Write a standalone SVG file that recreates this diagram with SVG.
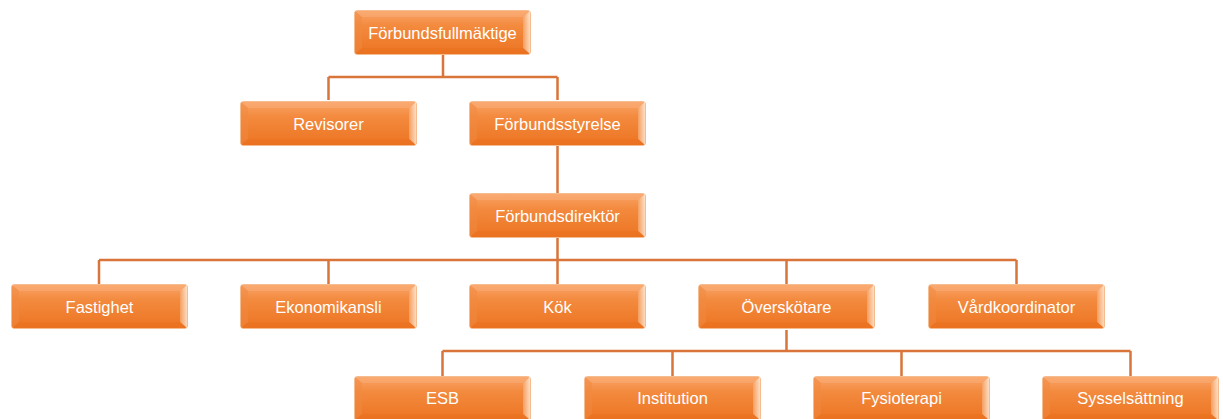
<svg xmlns="http://www.w3.org/2000/svg" width="1223" height="419" viewBox="0 0 1223 419">
<defs>
<linearGradient id="g" x1="0" y1="0" x2="0" y2="1">
<stop offset="0" stop-color="#F9A468"/>
<stop offset="0.35" stop-color="#F38A3E"/>
<stop offset="1" stop-color="#EC7422"/>
</linearGradient>
<linearGradient id="gr" x1="0" y1="0" x2="1" y2="0">
<stop offset="0" stop-color="#F5A56A"/>
<stop offset="1" stop-color="#FFF1E2"/>
</linearGradient>
<symbol id="box" viewBox="0 0 177 45" width="177" height="45">
<rect x="0.5" y="0.5" width="176" height="44" rx="3" fill="url(#g)" stroke="#F5BC90" stroke-width="1"/>
<polygon points="1,1 176,1 169,7 8,7" fill="#FAB27E" opacity="0.45"/>
<polygon points="176,1 176,44 169,38 169,7" fill="url(#gr)" opacity="0.8"/>
<polygon points="1,44 176,44 169,38 8,38" fill="#E96E1C" opacity="0.4"/>
<polygon points="1,1 8,7 8,38 1,44" fill="#F08A42" opacity="0.5"/>
</symbol>
<style>
.t{font-family:"Liberation Sans","Noto Sans",Arial,sans-serif;font-size:16.5px;fill:#ffffff;text-anchor:middle;dominant-baseline:central}
.c{fill:none;stroke:#D9753B;stroke-width:2.5}
</style>
</defs>
<g id="connectors">
<path class="c" d="M443 55V77M328.5 77H557.5M328.5 77V100M557.5 77V100"/>
<path class="c" d="M557.5 146V193"/>
<path class="c" d="M557.5 238V260M99 260H1016.5M99 260V284M328.5 260V284M557.5 260V284M786.5 260V284M1016.5 260V284"/>
<path class="c" d="M786.5 330V351M442.5 351H1130.5M442.5 351V376M672.5 351V376M901.5 351V376M1130.5 351V376"/>
</g>
<g id="n1"><use href="#box" x="354" y="10"/><text class="t" x="442.5" y="32.5">Förbundsfullmäktige</text></g>
<g id="n2"><use href="#box" x="240" y="101"/><text class="t" x="328.5" y="123.5">Revisorer</text></g>
<g id="n3"><use href="#box" x="469" y="101"/><text class="t" x="557.5" y="123.5">Förbundsstyrelse</text></g>
<g id="n4"><use href="#box" x="469" y="193"/><text class="t" x="557.5" y="215.5">Förbundsdirektör</text></g>
<g id="n5"><use href="#box" x="11" y="284"/><text class="t" x="99.5" y="306.5">Fastighet</text></g>
<g id="n6"><use href="#box" x="240" y="284"/><text class="t" x="328.5" y="306.5">Ekonomikansli</text></g>
<g id="n7"><use href="#box" x="469" y="284"/><text class="t" x="557.5" y="306.5">Kök</text></g>
<g id="n8"><use href="#box" x="698" y="284"/><text class="t" x="786.5" y="306.5">Överskötare</text></g>
<g id="n9"><use href="#box" x="928" y="284"/><text class="t" x="1016.5" y="306.5">Vårdkoordinator</text></g>
<g id="n10"><use href="#box" x="354" y="376"/><text class="t" x="442.5" y="398">ESB</text></g>
<g id="n11"><use href="#box" x="584" y="376"/><text class="t" x="672.5" y="398">Institution</text></g>
<g id="n12"><use href="#box" x="813" y="376"/><text class="t" x="901.5" y="398">Fysioterapi</text></g>
<g id="n13"><use href="#box" x="1042" y="376"/><text class="t" x="1130.5" y="398">Sysselsättning</text></g>
</svg>
